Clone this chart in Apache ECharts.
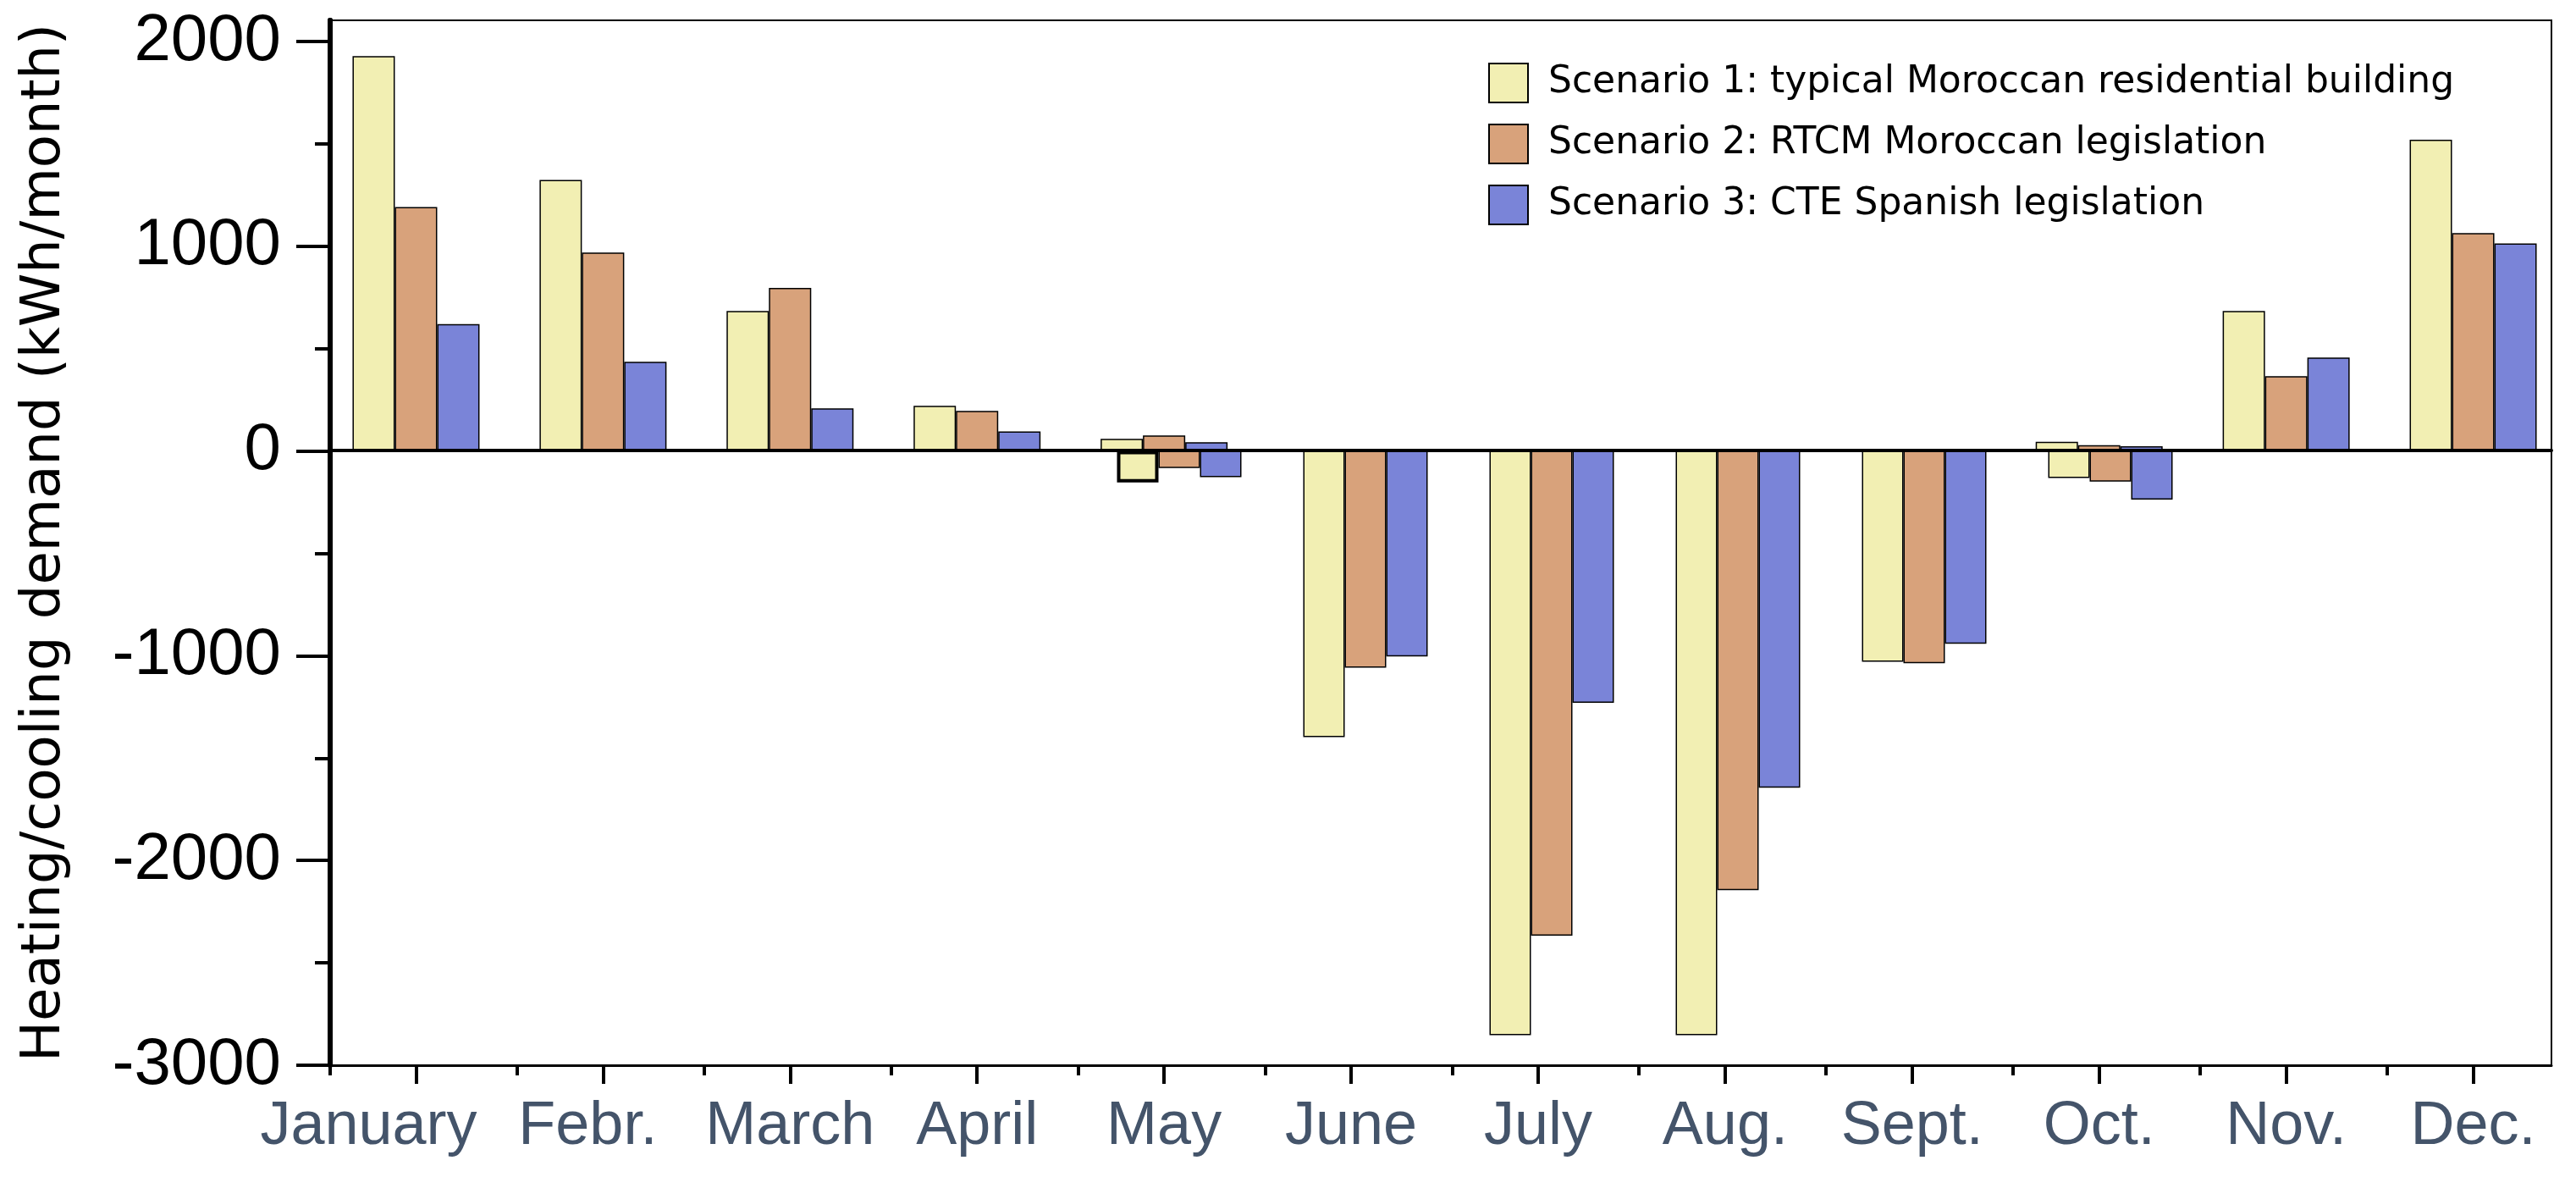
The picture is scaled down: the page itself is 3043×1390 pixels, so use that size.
<!DOCTYPE html>
<html>
<head>
<meta charset="utf-8">
<script src="https://cdn.jsdelivr.net/npm/echarts@6/dist/echarts.min.js"></script>
<style>
  html, body { margin: 0; padding: 0; background: #fff; }
  #chart { width: 3043px; height: 1390px; }
</style>
</head>
<body>
<div id="chart"></div>
<script>
// months on the x axis
const months = ['January', 'Febr.', 'March', 'April', 'May', 'June', 'July', 'Aug.', 'Sept.', 'Oct.', 'Nov.', 'Dec.'];
const scenarios = [
  'Scenario 1: typical Moroccan residential building',
  'Scenario 2: RTCM Moroccan legislation',
  'Scenario 3: CTE Spanish legislation'
];
// heating demand (positive), kWh/month
const heating1 = [1929, 1324, 684, 221, 59, null, null, null, null, 45, 684, 1520];
const heating2 = [1191, 969, 797, 196, 76, null, null, null, null, 28, 365, 1064];
const heating3 = [620, 436, 208, 96, 43, null, null, null, null, 23, 456, 1014];
// cooling demand (negative), kWh/month
const cooling1 = [null, null, null, null, -154, -1397, -2853, -2853, -1029, -132, null, null];
const cooling2 = [null, null, null, null, -83, -1058, -2367, -2145, -1037, -149, null, null];
const cooling3 = [null, null, null, null, -128, -1004, -1230, -1645, -941, -237, null, null];

const colors = ['#F2EFB3', '#D8A27B', '#7A84D8'];

const chart = echarts.init(document.getElementById('chart'), null, { renderer: 'canvas' });

function barSeries(name, data, color, axis, width) {
  return {
    type: 'bar',
    name: name,
    xAxisIndex: axis,
    yAxisIndex: axis,
    barWidth: width,
    barGap: '0%',
    data: data,
    itemStyle: { color: color, borderColor: '#000', borderWidth: 1.5 }
  };
}

// May cooling bar of scenario 1 has a heavier outline in the original
const cooling1Data = cooling1.map((v, i) => months[i] === 'May' ? { value: v, itemStyle: { borderWidth: 4 } } : v);

const option = {
  backgroundColor: '#fff',
  animation: false,
  grid: [
    // frame
    { left: 390, top: 24, width: 2624, height: 1234, show: true, borderColor: '#000', borderWidth: 2 },
    // heating bars, month ticks & labels
    { left: 381, top: 49, width: 2651, height: 1209 },
    // cooling bars (drawn slightly right of the heating ones)
    { left: 403, top: 49, width: 2651, height: 1209 }
  ],
  legend: {
    data: scenarios,
    orient: 'vertical',
    left: 1753,
    top: 69,
    itemWidth: 46,
    itemHeight: 46,
    itemGap: 24,
    icon: 'rect',
    textStyle: { fontFamily: 'DejaVu Sans', fontSize: 44, color: '#000', padding: [0, 0, 0, 19] }
  },
  xAxis: [
    {
      gridIndex: 0, type: 'value', min: 0, max: 11.88, interval: 1, position: 'bottom',
      axisLine: { onZero: false, lineStyle: { color: '#000', width: 3 } },
      axisTick: { show: true, length: 12, lineStyle: { color: '#000', width: 4 }, customValues: months.map((m, i) => i) },
      axisLabel: { show: false },
      splitLine: { show: false }
    },
    {
      gridIndex: 0, type: 'value', min: 0, max: 1, position: 'bottom', z: 5,
      axisLine: { onZero: true, onZeroAxisIndex: 0, lineStyle: { color: '#000', width: 4 } },
      axisTick: { show: false },
      axisLabel: { show: false },
      splitLine: { show: false }
    },
    {
      gridIndex: 1, type: 'category', data: months, position: 'bottom',
      axisLine: { show: false, onZero: false },
      axisTick: { show: true, alignWithLabel: true, length: 22, lineStyle: { color: '#000', width: 4 } },
      axisLabel: {
        interval: 0, margin: 37, fontSize: 72, fontFamily: 'Liberation Sans', color: '#44546A',
        formatter: function (v) {
          if (v === 'January') return '{j|' + v + '}';
          if (v === 'Febr.') return '{f|' + v + '}';
          return v;
        },
        rich: {
          j: { fontSize: 72, fontFamily: 'Liberation Sans', color: '#44546A', padding: [0, 112, 0, 0] },
          f: { fontSize: 72, fontFamily: 'Liberation Sans', color: '#44546A', padding: [0, 36, 0, 0] }
        }
      },
      splitLine: { show: false }
    },
    { gridIndex: 2, type: 'category', data: months, show: false }
  ],
  yAxis: [
    {
      gridIndex: 0, type: 'value', min: -3000, max: 2100, position: 'left',
      axisLine: { show: true, lineStyle: { color: '#000', width: 6 } },
      axisTick: { show: false },
      axisLabel: { show: false },
      splitLine: { show: false },
      name: 'Heating/cooling demand (kWh/month)',
      nameLocation: 'middle',
      nameGap: 305,
      nameTextStyle: { fontFamily: 'DejaVu Sans', fontSize: 64, color: '#000' }
    },
    {
      gridIndex: 0, type: 'value', min: -3000, max: 2100, position: 'right',
      axisLine: { show: true, lineStyle: { color: '#000', width: 6 } },
      axisTick: { show: false },
      axisLabel: { show: false },
      splitLine: { show: false }
    },
    {
      gridIndex: 1, type: 'value', min: -3000, max: 2000, interval: 1000, position: 'left', offset: -9,
      axisLine: { show: false },
      axisTick: { show: true, length: 40, lineStyle: { color: '#000', width: 4 } },
      minorTick: { show: true, splitNumber: 2, length: 18, lineStyle: { color: '#000', width: 4 } },
      axisLabel: {
        margin: 58, fontSize: 78, fontFamily: 'Liberation Sans', color: '#000',
        formatter: function (v) { return String(v); }
      },
      splitLine: { show: false }
    },
    { gridIndex: 2, type: 'value', min: -3000, max: 2000, show: false }
  ],
  series: [
    barSeries(scenarios[0], heating1, colors[0], 2, 50),
    barSeries(scenarios[1], heating2, colors[1], 2, 50),
    barSeries(scenarios[2], heating3, colors[2], 2, 50),
    barSeries(scenarios[0], cooling1Data, colors[0], 3, 49),
    barSeries(scenarios[1], cooling2, colors[1], 3, 49),
    barSeries(scenarios[2], cooling3, colors[2], 3, 49)
  ]
};

chart.setOption(option);
</script>
</body>
</html>
